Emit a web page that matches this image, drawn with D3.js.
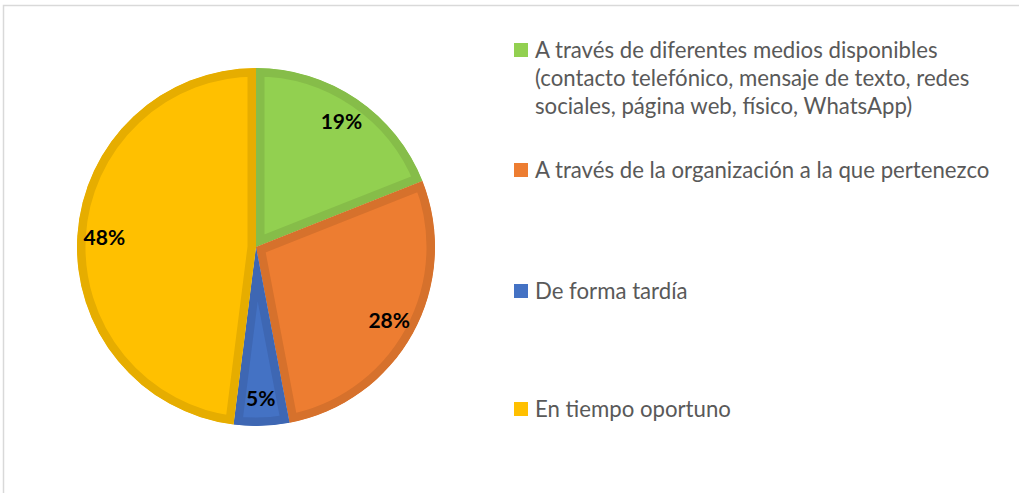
<!DOCTYPE html>
<html>
<head>
<meta charset="utf-8">
<script src="https://cdn.jsdelivr.net/npm/d3@7"></script>
<style>
  body { margin:0; background:#fff; }
  svg { display:block; }
</style>
</head>
<body>
<svg id="grafica"></svg>
<script>
// Datos del gráfico de torta
const categorias = [
  ["A través de diferentes medios disponibles", "(contacto telefónico, mensaje de texto, redes", "sociales, página web, físico, WhatsApp)"],
  ["A través de la organización a la que pertenezco"],
  ["De forma tardía"],
  ["En tiempo oportuno"]
];
const valores = [19, 28, 5, 48];
const colores = ["#92d050", "#ed7d31", "#4472c4", "#ffc000"];
const bordes = ["#86bd49", "#d6712c", "#3e67b3", "#e6ad00"];
const legend_y = [50, 170, 291, 409]; // centro del marcador de cada entrada

const svg_w = 1019;
const svg_h = 493;
const centro = {x:256, y:247};
const radio = 179;

let svg = d3.select("#grafica")
  .attr("width", svg_w)
  .attr("height", svg_h)

// marco del gráfico
svg.append("path")
  .attr("d", `M3.5,${svg_h} L3.5,5.5 L${svg_w},5.5`)
  .attr("fill", "none")
  .attr("stroke", "#d9d9d9")
  .attr("stroke-width", 1.5)

let pie = d3.pie().sort(null).value(d => d)
let arcos = pie(valores)
let arc = d3.arc().innerRadius(0).outerRadius(radio)
let arc_label = d3.arc().innerRadius(152).outerRadius(152)

let torta = svg.append("g")
  .attr("transform", `translate(${centro.x},${centro.y})`)

let defs = svg.append("defs")
defs.selectAll("clipPath")
  .data(arcos)
  .enter().append("clipPath")
  .attr("id", (d,i) => "corte" + i)
  .append("path")
  .attr("d", arc)

// cada porción con borde interior más oscuro
torta.selectAll("path.porcion")
  .data(arcos)
  .enter().append("path")
  .attr("class", "porcion")
  .attr("d", arc)
  .attr("fill", (d,i) => colores[i])
  .attr("stroke", (d,i) => bordes[i])
  .attr("stroke-width", 17)
  .attr("stroke-linejoin", "miter")
  .attr("clip-path", (d,i) => `url(#corte${i})`)

torta.selectAll("text")
  .data(arcos)
  .enter().append("text")
  .attr("transform", d => `translate(${arc_label.centroid(d)})`)
  .attr("text-anchor", "middle")
  .attr("dy", "0.35em")
  .attr("font-family", "Lato, 'Open Sans', sans-serif")
  .attr("font-weight", "bold")
  .attr("font-size", 21)
  .attr("fill", "#000")
  .text(d => d.data + "%")

// leyenda
let leyenda = svg.append("g")
  .selectAll("g")
  .data(categorias)
  .enter().append("g")
  .attr("transform", (d,i) => `translate(514,${legend_y[i]})`)

leyenda.append("rect")
  .attr("x", 0)
  .attr("y", -7)
  .attr("width", 14)
  .attr("height", 14)
  .attr("fill", (d,i) => colores[i])

leyenda.append("text")
  .attr("x", 21)
  .attr("y", 0)
  .attr("font-family", "Lato, 'Open Sans', sans-serif")
  .attr("font-size", 22.2)
  .attr("fill", "#595959")
  .selectAll("tspan")
  .data(d => d)
  .enter().append("tspan")
  .attr("x", 21)
  .attr("dy", (d,i) => i == 0 ? "0.35em" : 28)
  .text(d => d)
</script>
</body>
</html>
